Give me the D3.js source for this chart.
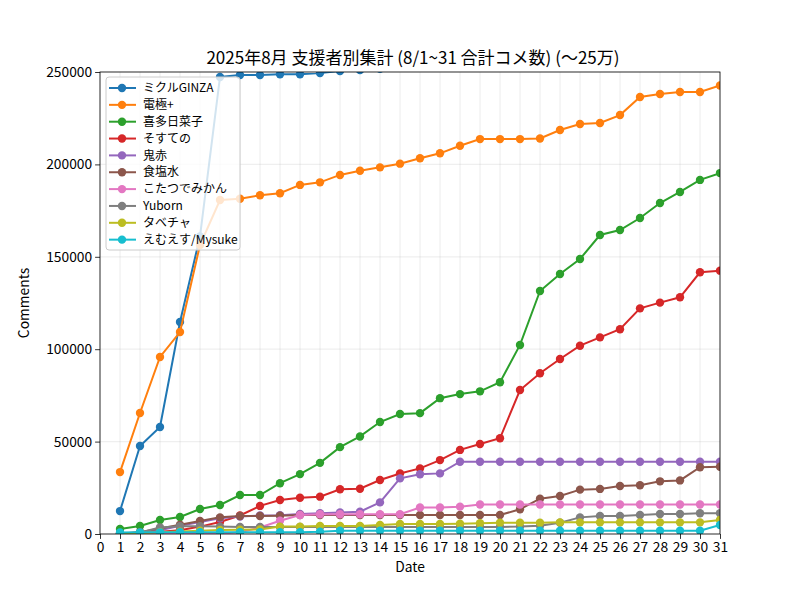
<!DOCTYPE html>
<html>
<head>
<meta charset="utf-8">
<script src="https://cdn.jsdelivr.net/npm/d3@7"></script>
<style>
  body { margin: 0; background: #fff; }
  text { font-family: "Noto Sans CJK JP", "DejaVu Sans", sans-serif; }
</style>
</head>
<body>
<div id="chart"></div>
<script>
var svgWidth = 800;
var svgHeight = 600;

var margin = { top: 72, right: 80, bottom: 66, left: 100 };
var width = svgWidth - margin.left - margin.right;
var height = svgHeight - margin.top - margin.bottom;

// data
var days = [1, 2, 3, 4, 5, 6, 7, 8, 9, 10, 11, 12, 13, 14, 15, 16, 17, 18, 19, 20, 21, 22, 23, 24, 25, 26, 27, 28, 29, 30, 31];
var names = ["ミクルGINZA", "電極+", "喜多日菜子", "そすての", "鬼赤", "食塩水", "こたつでみかん", "Yuborn", "タベチャ", "えむえす/Mysuke"];
var colors = ["#1f77b4", "#ff7f0e", "#2ca02c", "#d62728", "#9467bd", "#8c564b", "#e377c2", "#7f7f7f", "#bcbd22", "#17becf"];

var miku = [12400, 47600, 57900, 114700, 161000, 247300, 248400, 248400, 248800, 248800, 249400, 250500, 251000, 251700, 253000, 254000, 255500, 256500, 257500, 258500, 259000, 260000, 261000, 262000, 263000, 264000, 265000, 266000, 267000, 268000, 269000];
var dengoku = [33500, 65500, 95800, 109300, 156400, 180700, 181400, 183300, 184400, 188900, 190300, 194300, 196600, 198400, 200400, 203300, 206000, 210100, 213700, 213700, 213700, 214000, 218600, 221900, 222400, 226700, 236500, 238100, 239200, 239200, 242700];
var kita = [2700, 4300, 7600, 9200, 13500, 15700, 21100, 21100, 27500, 32400, 38500, 47000, 52800, 60600, 64900, 65400, 73500, 75700, 77200, 82100, 102300, 131500, 140700, 148800, 161800, 164500, 171000, 179100, 185100, 191600, 195300];
var sosuteno = [300, 800, 1200, 2000, 4000, 6500, 10000, 15200, 18400, 19600, 20200, 24200, 24500, 29200, 32700, 35500, 40000, 45500, 48700, 51800, 77900, 87000, 94700, 101900, 106400, 110800, 122100, 125200, 128100, 141600, 142500];
var oniaka = [200, 600, 2000, 4500, 6500, 8500, 9500, 10000, 10200, 10800, 11200, 11700, 12100, 17100, 30100, 32300, 32800, 39100, 39100, 39100, 39100, 39100, 39100, 39100, 39100, 39100, 39100, 39100, 39100, 39100, 39100];
var shokuen = [300, 1000, 3000, 5000, 7000, 9000, 9700, 9700, 9900, 10300, 10300, 10300, 10300, 10300, 10300, 10300, 10300, 10300, 10300, 10300, 13400, 19100, 20600, 24000, 24400, 26000, 26400, 28500, 29000, 36100, 36400];
var kotatsu = [0, 0, 0, 0, 0, 200, 1000, 3500, 7200, 10300, 10700, 10700, 10700, 10700, 10700, 14300, 14300, 14800, 16000, 16000, 16000, 16000, 16000, 16000, 16000, 16000, 16000, 16000, 16000, 16000, 16000];
var yuborn = [200, 800, 3500, 4200, 4200, 4000, 3800, 3800, 3800, 3800, 3800, 3800, 3800, 3800, 3800, 3800, 3800, 3800, 3800, 3800, 4000, 4500, 6100, 9000, 9700, 9700, 10300, 10800, 10800, 11200, 11200];
var tabecha = [0, 500, 1000, 1300, 1800, 2200, 2300, 2500, 4000, 4000, 4300, 4300, 4300, 4900, 5400, 5400, 5400, 5600, 5800, 6100, 6100, 6100, 6300, 6300, 6300, 6300, 6300, 6300, 6300, 6300, 7600];
var mysuke = [800, 900, 900, 1000, 1000, 1000, 1000, 1000, 1000, 1000, 1200, 1800, 1800, 1800, 1800, 1800, 1800, 1800, 1800, 1800, 1800, 1800, 1800, 1800, 1800, 1800, 1800, 1800, 1800, 1800, 4900];

var seriesValues = [miku, dengoku, kita, sosuteno, oniaka, shokuen, kotatsu, yuborn, tabecha, mysuke];
var yTicks = [0, 50000, 100000, 150000, 200000, 250000];

var svg = d3.select("#chart")
  .append("svg")
  .attr("width", svgWidth)
  .attr("height", svgHeight);

svg.append("rect").attr("width", svgWidth).attr("height", svgHeight).attr("fill", "#fff");

var chartGroup = svg.append("g")
  .attr("transform", `translate(${margin.left}, ${margin.top})`);

var x = d3.scaleLinear().domain([0, 31]).range([0, width]);
var y = d3.scaleLinear().domain([0, 250000]).range([height, 0]);

// grid
chartGroup.append("g")
  .selectAll("line.vg")
  .data(d3.range(0, 32))
  .enter()
  .append("line")
  .attr("x1", d => x(d)).attr("x2", d => x(d))
  .attr("y1", 0).attr("y2", height)
  .attr("stroke", "#b0b0b0").attr("stroke-opacity", 0.2).attr("stroke-width", 1.2);

chartGroup.append("g")
  .selectAll("line.hg")
  .data(yTicks)
  .enter()
  .append("line")
  .attr("x1", 0).attr("x2", width)
  .attr("y1", d => y(d)).attr("y2", d => y(d))
  .attr("stroke", "#b0b0b0").attr("stroke-opacity", 0.2).attr("stroke-width", 1.2);

// clip
svg.append("defs").append("clipPath").attr("id", "plotclip")
  .append("rect").attr("width", width).attr("height", height);

var plot = chartGroup.append("g").attr("clip-path", "url(#plotclip)");

var line = d3.line()
  .x((d, i) => x(days[i]))
  .y(d => y(d));

seriesValues.forEach(function(vals, s) {
  var g = plot.append("g");
  g.append("path")
    .datum(vals)
    .attr("d", line)
    .attr("fill", "none")
    .attr("stroke", colors[s])
    .attr("stroke-width", 2);
  g.selectAll("circle")
    .data(vals)
    .enter()
    .append("circle")
    .attr("cx", (d, i) => x(days[i]))
    .attr("cy", d => y(d))
    .attr("r", 4.2)
    .attr("fill", colors[s]);
});

// axes
var bottomAxis = d3.axisBottom(x).tickValues(d3.range(0, 32)).tickSize(4.9).tickPadding(3).tickFormat(d3.format("d"));
var leftAxis = d3.axisLeft(y).tickValues(yTicks).tickSize(4.9).tickPadding(3).tickFormat(d3.format("d"));

var xAxis = chartGroup.append("g")
  .attr("transform", `translate(0, ${height})`)
  .call(bottomAxis);
var yAxis = chartGroup.append("g").call(leftAxis);

[xAxis, yAxis].forEach(function(a) {
  a.select(".domain").remove();
  a.selectAll("text").style("font-size", "13.8px").attr("fill", "#000");
  a.selectAll("line").attr("stroke", "#000").attr("stroke-width", 0.8);
});

chartGroup.append("rect")
  .attr("width", width).attr("height", height)
  .attr("fill", "none").attr("stroke", "#000").attr("stroke-width", 0.8);

// labels
svg.append("text")
  .attr("x", margin.left + width / 2 + 3).attr("y", 64)
  .attr("text-anchor", "middle")
  .style("font-size", "17px")
  .text("2025年8月 支援者別集計 (8/1~31 合計コメ数) (〜25万)");

svg.append("text")
  .attr("x", margin.left + width / 2).attr("y", 572)
  .attr("text-anchor", "middle")
  .style("font-size", "13.8px")
  .text("Date");

svg.append("text")
  .attr("transform", `translate(29, ${margin.top + height / 2}) rotate(-90)`)
  .attr("text-anchor", "middle")
  .style("font-size", "13.8px")
  .text("Comments");

// legend
var legend = chartGroup.append("g").attr("transform", "translate(6, 5)");
legend.append("rect")
  .attr("width", 134).attr("height", 173)
  .attr("rx", 3)
  .attr("fill", "#fff").attr("fill-opacity", 0.8)
  .attr("stroke", "#ccc").attr("stroke-width", 1);

names.forEach(function(n, i) {
  var yy = 11 + i * 16.85;
  var item = legend.append("g").attr("transform", `translate(0, ${yy})`);
  item.append("line")
    .attr("x1", 3).attr("x2", 30)
    .attr("stroke", colors[i]).attr("stroke-width", 2);
  item.append("circle").attr("cx", 16).attr("r", 4.2).attr("fill", colors[i]);
  item.append("text")
    .attr("x", 37).attr("dy", "0.35em")
    .style("font-size", "12px")
    .text(n);
});
</script>
</body>
</html>
